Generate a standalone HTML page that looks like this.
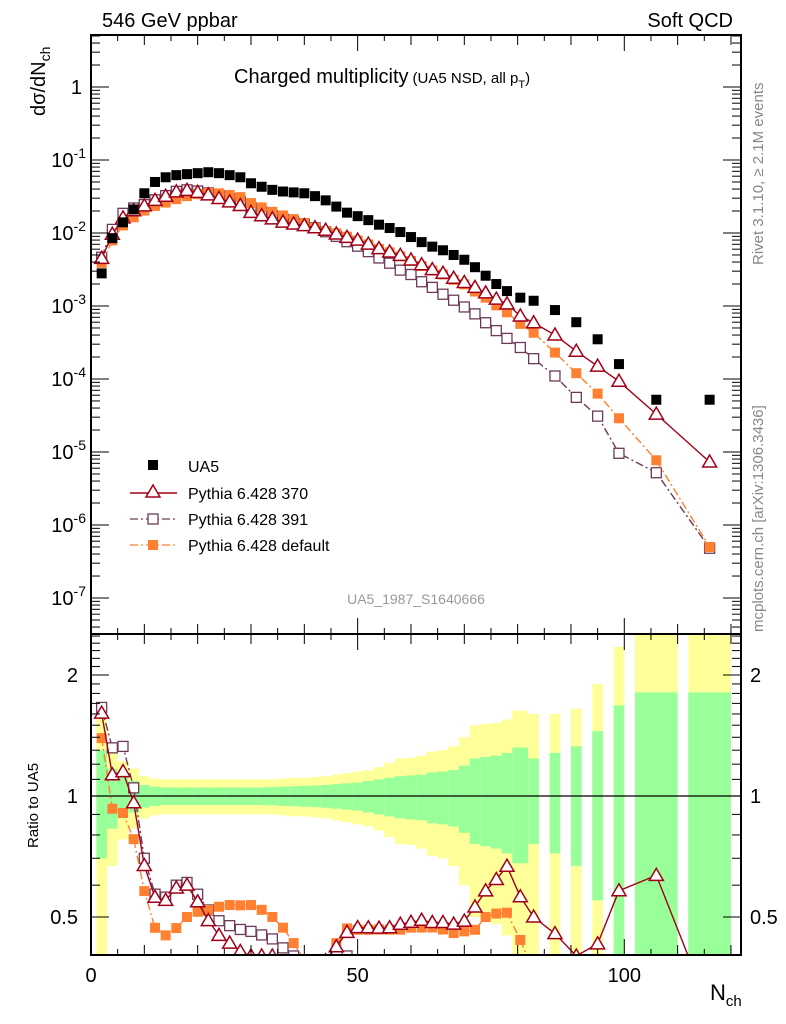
<!DOCTYPE html>
<html><head><meta charset="utf-8"><style>
body{margin:0;background:#fff;overflow:hidden;}
svg{font-family:"Liberation Sans",Arial,sans-serif;display:block;}
</style></head><body>
<svg id="c" width="786" height="1024" viewBox="0 0 786 1024" xmlns="http://www.w3.org/2000/svg">
<defs>
<clipPath id="clipTop"><rect x="91" y="35" width="650" height="599"/></clipPath>
<clipPath id="clipBot"><rect x="91" y="634" width="650" height="321"/></clipPath>
</defs>
<g id="bands" clip-path="url(#clipBot)"></g>
<g id="gTop" clip-path="url(#clipTop)"></g>
<g id="gBot" clip-path="url(#clipBot)"></g>
<g id="axes"></g>
<text x="102" y="27" font-size="20">546 GeV ppbar</text>
<text x="733" y="27" font-size="20" text-anchor="end">Soft QCD</text>
<text x="234" y="83" font-size="20">Charged multiplicity<tspan font-size="15" dx="4">(UA5 NSD, all p</tspan><tspan font-size="11" dy="5">T</tspan><tspan font-size="15" dy="-5">)</tspan></text>
<text transform="translate(45,116) rotate(-90)" font-size="20">dσ/dN<tspan font-size="14" dy="5">ch</tspan></text>
<text transform="translate(38,848) rotate(-90)" font-size="15">Ratio to UA5</text>
<text x="710" y="1000" font-size="22">N<tspan font-size="15" dy="6">ch</tspan></text>
<text transform="translate(763,265) rotate(-90)" font-size="15" fill="#888">Rivet 3.1.10, ≥ 2.1M events</text>
<text transform="translate(763,632) rotate(-90)" font-size="15" fill="#888">mcplots.cern.ch [arXiv:1306.3436]</text>
<text x="416" y="604" font-size="14" fill="#999" text-anchor="middle">UA5_1987_S1640666</text>
<g id="legend">
<g><rect x="148" y="460" width="10" height="10" fill="#000"/><text x="188" y="472" font-size="16">UA5</text></g>
<g><line x1="130" y1="493" x2="177" y2="493" stroke="#a00018" stroke-width="1.5"/><path d="M153,485 L160,497 L146,497 Z" fill="#fff" stroke="#a00018" stroke-width="1.5"/><text x="188" y="499" font-size="16">Pythia 6.428 370</text></g>
<g><line x1="130" y1="519" x2="177" y2="519" stroke="#6e3a58" stroke-width="1.3" stroke-dasharray="8,3,2,3"/><rect x="148" y="514" width="10" height="10" fill="#fff" stroke="#6e3a58" stroke-width="1.3"/><text x="188" y="525" font-size="16">Pythia 6.428 391</text></g>
<g><line x1="130" y1="545" x2="177" y2="545" stroke="#ff8030" stroke-width="1.3" stroke-dasharray="8,3,2,3"/><rect x="148" y="540" width="10" height="10" fill="#ff8030"/><text x="188" y="551" font-size="16">Pythia 6.428 default</text></g>
</g>
</svg>
<script>
const nch = [2,4,6,8,10,12,14,16,18,20,22,24,26,28,30,32,34,36,38,40,42,44,46,48,50,52,54,56,58,60,62,64,66,68,70,72,74,76,78,80.5,83,87,91,95,99,106,116];
const binLo = [1,3,5,7,9,11,13,15,17,19,21,23,25,27,29,31,33,35,37,39,41,43,45,47,49,51,53,55,57,59,61,63,65,67,69,71,73,75,77,79,82,86,90,94,98,102,112];
const binHi = [3,5,7,9,11,13,15,17,19,21,23,25,27,29,31,33,35,37,39,41,43,45,47,49,51,53,55,57,59,61,63,65,67,69,71,73,75,77,79,82,84,88,92,96,100,110,120];
const ua5 = [2.8e-3,8.5e-3,1.4e-2,2.1e-2,3.5e-2,5.0e-2,5.8e-2,6.2e-2,6.4e-2,6.6e-2,6.8e-2,6.6e-2,6.2e-2,5.8e-2,4.8e-2,4.3e-2,3.9e-2,3.7e-2,3.6e-2,3.5e-2,3.2e-2,2.8e-2,2.3e-2,1.9e-2,1.7e-2,1.5e-2,1.3e-2,1.17e-2,1.03e-2,8.8e-3,7.5e-3,6.5e-3,5.8e-3,5.0e-3,4.3e-3,3.4e-3,2.6e-3,2.0e-3,1.6e-3,1.3e-3,1.18e-3,8.8e-4,6e-4,3.5e-4,1.6e-4,5.2e-5,5.2e-5];
const errStat = [.30,.17,.12,.09,.065,.055,.05,.05,.05,.05,.05,.05,.05,.05,.05,.05,.052,.055,.057,.06,.062,.065,.07,.075,.08,.09,.10,.11,.12,.125,.13,.145,.15,.16,.19,.24,.25,.26,.28,.32,.24,.28,.33,.45,.68,.81,.81];
const errTot = [.62,.33,.22,.17,.12,.105,.10,.10,.10,.10,.10,.10,.10,.10,.10,.10,.10,.105,.11,.11,.115,.12,.13,.14,.15,.16,.18,.21,.24,.245,.26,.29,.30,.33,.40,.50,.51,.52,.55,.63,.60,.60,.65,.90,1.35,1.6,1.6];
const py370 = [4.5e-3,9.6e-3,1.61e-2,2.02e-2,2.35e-2,2.8e-2,3.19e-2,3.66e-2,3.84e-2,3.6e-2,3.33e-2,2.97e-2,2.67e-2,2.38e-2,1.92e-2,1.72e-2,1.56e-2,1.41e-2,1.33e-2,1.26e-2,1.18e-2,1.09e-2,9.7e-3,8.7e-3,8.0e-3,7.05e-3,6.1e-3,5.5e-3,4.94e-3,4.27e-3,3.68e-3,3.15e-3,2.81e-3,2.4e-3,2.1e-3,1.8e-3,1.51e-3,1.24e-3,1.07e-3,7.3e-4,5.9e-4,4.0e-4,2.4e-4,1.5e-4,9.3e-5,3.3e-5,7.3e-6];
const py391 = [4.65e-3,1.12e-2,1.86e-2,2.2e-2,2.45e-2,2.85e-2,3.25e-2,3.72e-2,3.9e-2,3.76e-2,3.54e-2,3.23e-2,2.95e-2,2.7e-2,2.21e-2,1.94e-2,1.72e-2,1.55e-2,1.44e-2,1.33e-2,1.18e-2,1.04e-2,9.0e-3,7.6e-3,6.6e-3,5.55e-3,4.55e-3,3.86e-3,3.1e-3,2.7e-3,2.15e-3,1.8e-3,1.45e-3,1.2e-3,9.7e-4,7.8e-4,5.9e-4,4.6e-4,3.6e-4,2.7e-4,1.9e-4,1.1e-4,5.6e-5,3.1e-5,9.6e-6,5.2e-6,4.8e-7];
const pyDef = [3.9e-3,7.9e-3,1.27e-2,1.64e-2,2.03e-2,2.35e-2,2.61e-2,2.91e-2,3.2e-2,3.4e-2,3.54e-2,3.5e-2,3.32e-2,3.1e-2,2.57e-2,2.24e-2,1.95e-2,1.74e-2,1.55e-2,1.37e-2,1.18e-2,1.06e-2,9.9e-3,8.9e-3,7.9e-3,6.97e-3,6.05e-3,5.44e-3,4.79e-3,4.14e-3,3.53e-3,3.06e-3,2.7e-3,2.28e-3,1.98e-3,1.58e-3,1.3e-3,1.02e-3,8.2e-4,5.7e-4,4.3e-4,2.3e-4,1.2e-4,6.3e-5,2.9e-5,7.7e-6,5e-7];
const yTickExp = [0,-1,-2,-3,-4,-5,-6,-7];
const xTickLabels = [0,50,100];
const rTickVals = [0.5,1,2];

const NS='http://www.w3.org/2000/svg';
const X = n => 91 + n*5.333;
const Y = v => 87 - 73*Math.log10(v);
const R = r => 796 - 121*Math.log2(r);
const bandY = r => r > 0.35 ? Math.min(960, R(r)) : 960;
function mk(tag, attrs, parent){const e=document.createElementNS(NS,tag);for(const k in attrs)e.setAttribute(k,attrs[k]);parent.appendChild(e);return e;}
const gTop=document.getElementById('gTop'), gBot=document.getElementById('gBot'), bands=document.getElementById('bands'), axes=document.getElementById('axes');

for(let i=0;i<nch.length;i++){
  const x0=X(binLo[i]), w=X(binHi[i])-X(binLo[i]);
  const yt=Math.max(630,R(1+errTot[i])), yb=bandY(1-errTot[i]);
  const r1=mk('rect',{x:x0,y:yt,width:w,height:yb-yt,fill:'#ffff99'},bands);
  
  
  const st=Math.max(630,R(1+errStat[i])), sb=bandY(1-errStat[i]);
  const r2=mk('rect',{x:x0,y:st,width:w,height:sb-st,fill:'#99ff99'},bands);
  
  
}
const one=mk('line',{x1:91,x2:741,y1:R(1),y2:R(1),stroke:'#000','stroke-width':1.2},bands);



function series(vals,color,dash,marker,name){
  const pts=nch.map((n,i)=>X(n)+','+Y(vals[i])).join(' ');
  const l=mk('polyline',{points:pts,fill:'none',stroke:color,'stroke-width':1.4,'stroke-dasharray':dash},gTop);
  
  
  const rp=nch.map((n,i)=>X(n)+','+Math.min(1010,R(vals[i]/ua5[i]))).join(' ');
  const l2=mk('polyline',{points:rp,fill:'none',stroke:color,'stroke-width':1.4,'stroke-dasharray':dash},gBot);
  
  
  nch.forEach((n,i)=>{
    const ry=R(vals[i]/ua5[i]);
    const list=[[gTop,Y(vals[i])]];
    if(ry<970) list.push([gBot,ry]);
    list.forEach(([g,y])=>{
      const x=X(n);let m;
      if(marker==='tri'){m=mk('path',{d:`M${x},${y-7} L${x+7},${y+5} L${x-7},${y+5} Z`,fill:'#fff',stroke:color,'stroke-width':1.5},g);}
      else if(marker==='open'){m=mk('rect',{x:x-5,y:y-5,width:10,height:10,fill:'#fff',stroke:color,'stroke-width':1.3},g);}
      else {m=mk('rect',{x:x-5,y:y-5,width:10,height:10,fill:color},g);}
      
      
    });
  });
}
series(py391,'#6e3a58','8,3,2,3','open','pythia-391');
series(pyDef,'#ff8030','8,3,2,3','fill','pythia-default');
series(py370,'#a00018','none','tri','pythia-370');
nch.forEach((n,i)=>{
  const m=mk('rect',{x:X(n)-5,y:Y(ua5[i])-5,width:10,height:10,fill:'#000'},gTop);
  
  
});

[[35,634],[634,955]].forEach(([t,b])=>{
  const f=mk('rect',{x:91,y:t,width:650,height:b-t,fill:'none',stroke:'#000','stroke-width':2},axes);
  
  
});
for(let n=0;n<=120;n+=5){
  const len=n%50===0?16:(n%10===0?10:6);
  [[634,-1],[955,-1],[35,1],[634,1]].forEach(([y,d])=>{
    mk('line',{x1:X(n),x2:X(n),y1:y,y2:y+d*len,stroke:'#000','stroke-width':1},axes);
  });
}
xTickLabels.forEach(v=>{
  const t=mk('text',{x:X(v),y:982,'font-size':20,'text-anchor':'middle'},axes);
  t.textContent=v;
  
  
});
for(let e=-8;e<=0;e++){
  for(let k=1;k<10;k++){
    const v=k*Math.pow(10,e);const y=Y(v);
    if(y<35||y>634)continue;
    const len=k===1?18:9;
    mk('line',{x1:91,x2:91+len,y1:y,y2:y,stroke:'#000','stroke-width':1},axes);
    mk('line',{x1:741,x2:741-len,y1:y,y2:y,stroke:'#000','stroke-width':1},axes);
  }
}
yTickExp.forEach(e=>{
  const y=Y(Math.pow(10,e));
  const t=mk('text',{y:y+7,'font-size':20,'text-anchor':'end'},axes);
  if(e===0){t.setAttribute('x',82);t.textContent='1';}
  else{t.setAttribute('x',86);t.innerHTML='10<tspan font-size="14" dy="-9">'+e+'</tspan>';}
  
  
});
for(let k=4;k<=25;k++){
  const r=k/10;const y=R(r);
  if(y<634||y>955)continue;
  const len=(k===5||k===10||k===20)?18:9;
  mk('line',{x1:91,x2:91+len,y1:y,y2:y,stroke:'#000','stroke-width':1},axes);
  mk('line',{x1:741,x2:741-len,y1:y,y2:y,stroke:'#000','stroke-width':1},axes);
}
rTickVals.forEach(r=>{
  const y=R(r)+7;
  const t=mk('text',{x:78,y:y,'font-size':20,'text-anchor':'end'},axes);
  t.textContent=r;
  
  
  const t2=mk('text',{x:750,y:y,'font-size':20},axes);
  t2.textContent=r;
  
  
});
</script>
</body></html>
